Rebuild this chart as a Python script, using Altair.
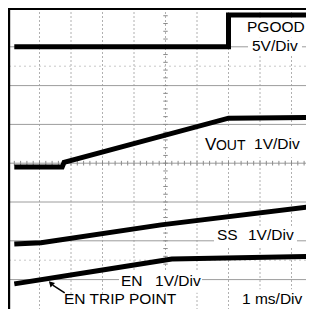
import altair as alt
import pandas as pd

# Oscilloscope capture: time in ms (1 ms/div), vertical in screen divisions (0..8)
pgood_t = [0.2, 7.0, 7.0, 9.8]
pgood_v = [7.0, 7.0, 7.82, 7.82]
vout_t = [0.2, 1.72, 1.78, 7.0, 9.8]
vout_v = [3.9, 3.9, 4.02, 5.16, 5.18]
ss_t = [0.2, 1.05, 4.86, 9.8]
ss_v = [1.92, 1.95, 2.41, 2.9]
en_t = [0.2, 2.95, 5.2, 9.8]
en_v = [0.89, 1.24, 1.53, 1.6]

v_grid = [1, 2, 3, 4, 5, 6, 7, 8, 9]
h_grid = [1, 2, 3, 4, 5, 6, 7]
h_dotted = [1.5, 6.5]

label_text = ["PGOOD", "5V/Div", "V", "OUT", "1V/Div", "SS", "1V/Div", "EN", "1V/Div",
              "EN TRIP POINT", "1 ms/Div"]
label_x = [7.587, 7.746, 6.254, 6.6, 7.81, 6.635, 7.619, 3.587, 4.667, 1.778, 7.429]
label_y = [7.38, 6.899, 4.342, 4.33, 4.354, 2.013, 2.013, 0.83, 0.83, 0.36, 0.38]
label_size = [15.5, 15.5, 17, 14, 15.5, 15.5, 15.5, 15.5, 15.5, 15.5, 15.5]

box_x1 = [7.397, 7.619, 6.127, 6.54, 3.524, 1.683, 7.302]
box_x2 = [9.8, 9.333, 9.397, 9.175, 6.159, 5.587, 9.46]
box_y1 = [7.722, 7.241, 4.911, 2.354, 1.241, 0.63, 0.75]
box_y2 = [7.241, 6.785, 4.152, 1.823, 0.66, -0.1, -0.1]

W, H = 298, 301
PXX, PXY = 31.5, 38.8
xs = alt.Scale(domain=[0, W / PXX], nice=False, zero=False)
ys = alt.Scale(domain=[8 - H / PXY, 8], nice=False, zero=False)


def X(f):
    return alt.X(f, type="quantitative", scale=xs, axis=None)


def Y(f):
    return alt.Y(f, type="quantitative", scale=ys, axis=None)


rows = []
for name, ts, vs in [("PGOOD", pgood_t, pgood_v), ("VOUT", vout_t, vout_v),
                     ("SS", ss_t, ss_v), ("EN", en_t, en_v)]:
    for i, (t, v) in enumerate(zip(ts, vs)):
        rows.append({"series": name, "i": i, "t": t, "v": v})
traces = pd.DataFrame(rows)

vg = alt.Chart(pd.DataFrame({"t": v_grid})).mark_rule(
    color="#b0b0b0", strokeWidth=1, strokeDash=[2, 2]).encode(x=X("t"))
hg = alt.Chart(pd.DataFrame({"v": h_grid})).mark_rule(
    color="#9c9c9c", strokeWidth=1).encode(y=Y("v"))
hd = alt.Chart(pd.DataFrame({"v": h_dotted})).mark_rule(
    color="#c8c8c8", strokeWidth=1, strokeDash=[2, 3]).encode(y=Y("v"))

vt = pd.DataFrame({"v": [k * 0.2 for k in range(1, 40)]})
vt["a"] = 4.93
vt["b"] = 5.07
vticks = alt.Chart(vt).mark_rule(color="#8a8a8a", strokeWidth=1).encode(
    x=X("a"), x2="b", y=Y("v"))
ht = pd.DataFrame({"t": [k * 0.2 for k in range(1, 49)]})
ht["a"] = 3.94
ht["b"] = 4.06
hticks = alt.Chart(ht).mark_rule(color="#8a8a8a", strokeWidth=1).encode(
    y=Y("a"), y2="b", x=X("t"))

boxes = alt.Chart(pd.DataFrame({"x1": box_x1, "x2": box_x2, "y1": box_y1, "y2": box_y2})).mark_rect(
    color="white").encode(x=X("x1"), x2="x2", y=Y("y1"), y2="y2")

lines = alt.Chart(traces).mark_line(color="black", strokeWidth=5).encode(
    x=X("t"), y=Y("v"), detail="series:N", order="i:Q")

frame_l = alt.Chart(pd.DataFrame({"t": [0.03]})).mark_rule(color="black", strokeWidth=2.5).encode(x=X("t"))
frame_t = alt.Chart(pd.DataFrame({"v": [7.975]})).mark_rule(color="black", strokeWidth=2).encode(y=Y("v"))

labels = alt.Chart(pd.DataFrame({"text": label_text, "x": label_x, "y": label_y, "s": label_size})).mark_text(
    align="left", baseline="alphabetic", font="Liberation Sans", color="black").encode(
    x=X("x"), y=Y("y"), text="text:N", size=alt.Size("s:Q", scale=None))

arrow = alt.Chart(pd.DataFrame({"x1": [1.8], "x2": [1.42], "y1": [0.66], "y2": [0.86]})).mark_rule(
    color="black", strokeWidth=1.5).encode(x=X("x1"), x2="x2", y=Y("y1"), y2="y2")
head = alt.Chart(pd.DataFrame({"x": [1.38], "y": [0.89]})).mark_point(
    shape="triangle", filled=True, color="black", opacity=1, size=40, angle=315).encode(
    x=X("x"), y=Y("y"))

chart = alt.layer(vg, hg, hd, vticks, hticks, boxes, lines, frame_l, frame_t, labels, arrow, head).properties(
    width=W, height=H, padding=0, autosize="none", background="white"
).configure_view(stroke=None)

chart.save("out.html", embed_options={"renderer": "svg", "actions": False})
